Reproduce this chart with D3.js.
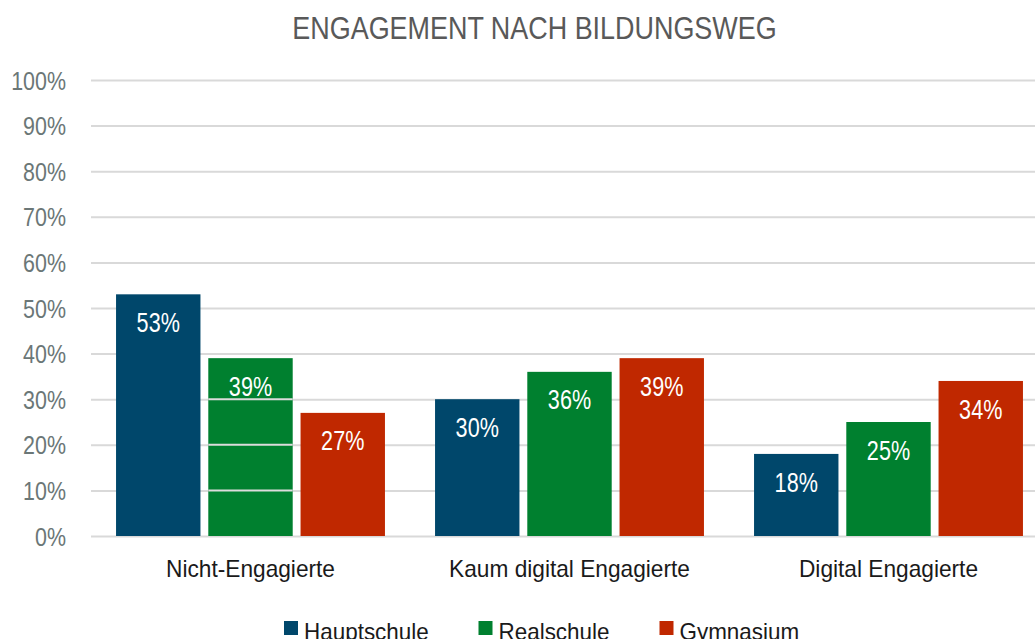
<!DOCTYPE html>
<html><head><meta charset="utf-8">
<script src="https://cdn.jsdelivr.net/npm/d3@7"></script>
<style>
html,body{margin:0;padding:0;background:#fff;overflow:hidden;}
text{font-family:"Liberation Sans","Arial",sans-serif;}
</style></head>
<body><svg id="c" width="1035" height="639"></svg>
<script>
const title = "ENGAGEMENT NACH BILDUNGSWEG";
const categories = ["Nicht-Engagierte", "Kaum digital Engagierte", "Digital Engagierte"];
const seriesNames = ["Hauptschule", "Realschule", "Gymnasium"];
const hauptschule = [53, 30, 18];
const realschule = [39, 36, 25];
const gymnasium = [27, 39, 34];
const colors = ["#00476b", "#00802f", "#c02800"];
const yTicks = [0,10,20,30,40,50,60,70,80,90,100];

const seriesValues = [hauptschule, realschule, gymnasium];
const svg = d3.select("#c");
const W = 1035, H = 639;
const mLeft = 91, mRight = 1048, mTop = 80, mBottom = 536;

// condense text horizontally to mimic a narrow font
function condense(sel, f) {
  sel.each(function(){
    const len = this.getComputedTextLength();
    d3.select(this).attr("textLength", len * f).attr("lengthAdjust", "spacingAndGlyphs");
  });
}

const x0 = d3.scaleBand().domain(categories).range([mLeft, mRight]).paddingInner(0.157).paddingOuter(0.0785);
const x1 = d3.scaleBand().domain(seriesNames).range([0, x0.bandwidth()]).paddingInner(0.085);
const y = d3.scaleLinear().domain([0,100]).range([mBottom, mTop]);

// gridlines + y tick labels
const yAxis = d3.axisLeft(y).tickValues(yTicks).tickSize(-(W - mLeft + 20)).tickFormat(d => d + "%");
const ga = svg.append("g").attr("transform", `translate(${mLeft},0)`).call(yAxis);
ga.select(".domain").remove();
ga.selectAll(".tick line").attr("stroke", "#d9d9d9").attr("stroke-width", 2);
ga.selectAll(".tick text").attr("x", -25).attr("dy", "0.36em").attr("fill", "#6b7777")
  .style("font-size", "25.5px").attr("font-family", "Liberation Sans");
condense(ga.selectAll(".tick text"), 0.84);

// bars
const groups = svg.append("g").selectAll("g").data(categories).join("g")
  .attr("transform", d => `translate(${x0(d)},0)`);
groups.each(function(cat, ci){
  const g = d3.select(this);
  seriesNames.forEach((s, si) => {
    const v = seriesValues[si][ci];
    g.append("rect").attr("x", x1(s)).attr("y", y(v)).attr("width", x1.bandwidth())
      .attr("height", y(0) - y(v)).attr("fill", colors[si]);
    // rendering artifact in reference: gridlines showing through first Realschule bar
    if (ci === 0 && si === 1) {
      yTicks.filter(t => t > 0 && t < v).forEach(t => {
        g.append("line").attr("x1", x1(s)).attr("x2", x1(s) + x1.bandwidth())
          .attr("y1", y(t)).attr("y2", y(t)).attr("stroke", "#dcdcdc").attr("stroke-width", 2);
      });
    }
    const t = g.append("text").attr("x", x1(s) + x1.bandwidth()/2).attr("y", y(v) + 37.6)
      .attr("text-anchor", "middle").attr("fill", "#fff").style("font-size", "27px").text(v + "%");
    condense(t, 0.8);
  });
});

// category labels
const xAxis = d3.axisBottom(x0).tickSize(0);
const gx = svg.append("g").attr("transform", `translate(0,${mBottom})`).call(xAxis);
gx.select(".domain").remove();
gx.selectAll(".tick text").attr("y", 41.3).attr("dy", 0).attr("fill", "#1a1a1a")
  .style("font-size", "24px").attr("font-family", "Liberation Sans");
condense(gx.selectAll(".tick text"), 0.945);

// title
const tt = svg.append("text").attr("x", 534.5).attr("y", 39.3).attr("text-anchor", "middle")
  .attr("fill", "#595959").style("font-size", "31.5px").text(title);
condense(tt, 0.855);

// legend
const legendX = [284, 478.5, 659.5];
const lg = svg.append("g");
seriesNames.forEach((s, i) => {
  lg.append("rect").attr("x", legendX[i]).attr("y", 621).attr("width", 14).attr("height", 14).attr("fill", colors[i]);
  const t = lg.append("text").attr("x", legendX[i] + 20).attr("y", 639.5).attr("fill", "#1a1a1a")
    .style("font-size", "24px").text(s);
  condense(t, 0.935);
});
</script></body></html>
